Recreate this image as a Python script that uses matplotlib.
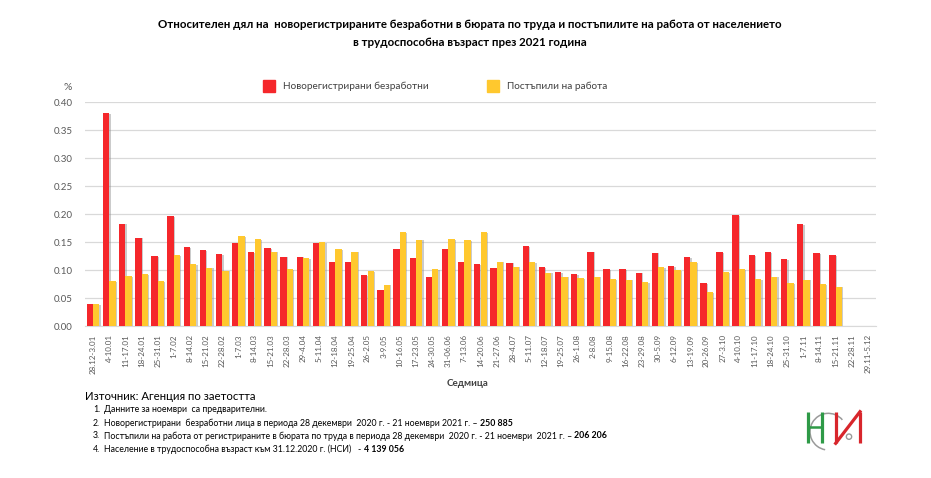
import numpy as np
import matplotlib
matplotlib.use("Agg")
import matplotlib.pyplot as plt
import matplotlib.patheffects as pe
from matplotlib.patches import Arc, Circle

plt.rcParams['font.family'] = ['Lato', 'Noto Sans', 'DejaVu Sans']

W, H = 931, 478

weeks = ["28.12-3.01", "4-10.01", "11-17.01", "18-24.01", "25-31.01", "1-7.02",
         "8-14.02", "15-21.02", "22-28.02", "1-7.03", "8-14.03", "15-21.03",
         "22-28.03", "29-4.04", "5-11.04", "12-18.04", "19-25.04", "26-2.05",
         "3-9.05", "10-16.05", "17-23.05", "24-30.05", "31-06.06", "7-13.06",
         "14-20.06", "21-27.06", "28-4.07", "5-11.07", "12-18.07", "19-25.07",
         "26-1.08", "2-8.08", "9-15.08", "16-22.08", "23-29.08", "30-5.09",
         "6-12.09", "13-19.09", "20-26.09", "27-3.10", "4-10.10", "11-17.10",
         "18-24.10", "25-31.10", "1-7.11", "8-14.11", "15-21.11", "22-28.11",
         "29.11-5.12"]

# % от населението в трудоспособна възраст (последните 2 седмици - без данни)
unemployed = [0.039, 0.380, 0.183, 0.158, 0.125, 0.196, 0.141, 0.136, 0.128,
              0.149, 0.132, 0.139, 0.124, 0.124, 0.148, 0.115, 0.114, 0.091,
              0.064, 0.138, 0.121, 0.088, 0.138, 0.115, 0.110, 0.104, 0.113,
              0.142, 0.105, 0.096, 0.093, 0.133, 0.102, 0.101, 0.095, 0.131,
              0.107, 0.123, 0.077, 0.132, 0.198, 0.127, 0.132, 0.119, 0.182,
              0.130, 0.126, np.nan, np.nan]
hired = [0.039, 0.080, 0.089, 0.093, 0.080, 0.127, 0.111, 0.104, 0.099,
         0.161, 0.155, 0.133, 0.101, 0.121, 0.150, 0.137, 0.133, 0.098,
         0.074, 0.168, 0.154, 0.102, 0.155, 0.153, 0.168, 0.115, 0.106,
         0.114, 0.095, 0.088, 0.086, 0.088, 0.084, 0.083, 0.078, 0.105,
         0.100, 0.114, 0.060, 0.096, 0.102, 0.084, 0.088, 0.076, 0.083,
         0.075, 0.070, np.nan, np.nan]

yticks = [0.0, 0.05, 0.10, 0.15, 0.20, 0.25, 0.30, 0.35, 0.40]

RED = "#F5272B"
YEL = "#FFC82E"
GRID = "#D9D9D9"
TXT = "#595959"


def fx(x):
    return x / W


def fy(y):
    return 1 - y / H


fig = plt.figure(figsize=(W / 100, H / 100), dpi=100)
ax = fig.add_axes([fx(85), fy(326), fx(876) - fx(85), fy(102) - fy(326)])

x = np.arange(len(weeks))
bw = 0.39
shadow = [pe.SimplePatchShadow(offset=(1.0, -0.5), shadow_rgbFace="#8c8c8c",
                               alpha=0.45), pe.Normal()]
b1 = ax.bar(x - bw / 2, unemployed, bw, color=RED, zorder=3,
            label="Новорегистрирани безработни")
b2 = ax.bar(x + bw / 2, hired, bw, color=YEL, zorder=3,
            label="Постъпили на работа")
for p in list(b1) + list(b2):
    p.set_path_effects(shadow)

ax.set_xlim(-0.5, len(weeks) - 0.5)
ax.set_ylim(0, 0.40)
ax.set_yticks(yticks)
ax.set_yticklabels([f"{v:.2f}" for v in yticks])
ax.set_xticks(x)
ax.set_xticklabels(weeks, rotation=90)
ax.tick_params(axis="y", length=0, labelsize=7, labelcolor=TXT, pad=9)
ax.tick_params(axis="x", length=0, labelsize=5.8, labelcolor=TXT, pad=6)
ax.grid(axis="y", color=GRID, lw=0.9, zorder=0)
ax.set_axisbelow(True)
for s in ["top", "right", "left"]:
    ax.spines[s].set_visible(False)
ax.spines["bottom"].set_color(GRID)

# легенда
fig.patches.append(plt.Rectangle((fx(263), fy(92)), fx(12), 12 / H,
                                 transform=fig.transFigure, color=RED))
fig.text(fx(283), fy(86), "Новорегистрирани безработни", fontsize=7.2,
         color="#404040", va="center")
fig.patches.append(plt.Rectangle((fx(487), fy(92)), fx(12), 12 / H,
                                 transform=fig.transFigure, color=YEL))
fig.text(fx(507), fy(86), "Постъпили на работа", fontsize=7.2,
         color="#404040", va="center")

fig.text(fx(63), fy(87), "%", fontsize=7.5, color=TXT, va="center")

# заглавие
fig.text(fx(470), fy(25), "Относителен дял на  новорегистрираните безработни в бюрата по труда "
         "и постъпилите на работа от населението", fontsize=8.3,
         fontweight="bold", ha="center", va="center")
fig.text(fx(470), fy(43), "в трудоспособна възраст през 2021 година",
         fontsize=8.3, fontweight="bold", ha="center", va="center")

fig.text(fx(468), fy(384), "Седмица", fontsize=7, fontweight="bold",
         ha="center", va="center", color="#404040")

fig.text(fx(85), fy(396), "Източник: Агенция по заетостта", fontsize=8.2,
         va="center")

notes = [
    ("Данните за ноември  са предварителни.", ""),
    ("Новорегистрирани  безработни лица в периода 28 декември  2020 г. - "
     "21 ноември 2021 г. – ", "250 885"),
    ("Постъпили на работа от регистрираните в бюрата по труда в периода "
     "28 декември  2020 г. - 21 ноември  2021 г. – ", "206 206"),
    ("Население в трудоспособна възраст към 31.12.2020 г. (НСИ)   - ",
     "4 139 056"),
]
renderer = fig.canvas.get_renderer()
for i, (txt, num) in enumerate(notes):
    yy = fy(410 + 13 * i)
    fig.text(fx(93), yy, f"{i + 1}.", fontsize=6.3, va="center")
    t = fig.text(fx(104), yy, txt, fontsize=6.3, va="center")
    if num:
        bb = t.get_window_extent(renderer).transformed(fig.transFigure.inverted())
        fig.text(bb.x1, yy, num, fontsize=6.3, fontweight="bold", va="center")

# лого
lg = fig.add_axes([fx(780), fy(470), fx(110), 70 / H])
lg.set_xlim(0, 330)
lg.set_ylim(210, 0)
lg.axis("off")
lg.add_patch(Arc((145, 95), 110, 110, theta1=100, theta2=320,
                 color="#9a9a9a", lw=1.1))
lg.add_patch(Circle((207, 110), 8, fill=False, ec="#9a9a9a", lw=1.0))
green = "#2E9A47"
red2 = "#D8262C"
lg.plot([85, 85], [35, 130], color=green, lw=2.3, solid_capstyle="butt")
lg.plot([127, 127], [35, 130], color=green, lw=2.3, solid_capstyle="butt")
lg.plot([85, 127], [80, 80], color=green, lw=1.8)
lg.plot([167, 167], [35, 130], color=red2, lw=2.3, solid_capstyle="butt")
lg.plot([167, 240], [130, 35], color=red2, lw=2.3)
lg.plot([240, 240], [35, 130], color=red2, lw=2.3, solid_capstyle="butt")

fig.savefig("out.png", dpi=100)
